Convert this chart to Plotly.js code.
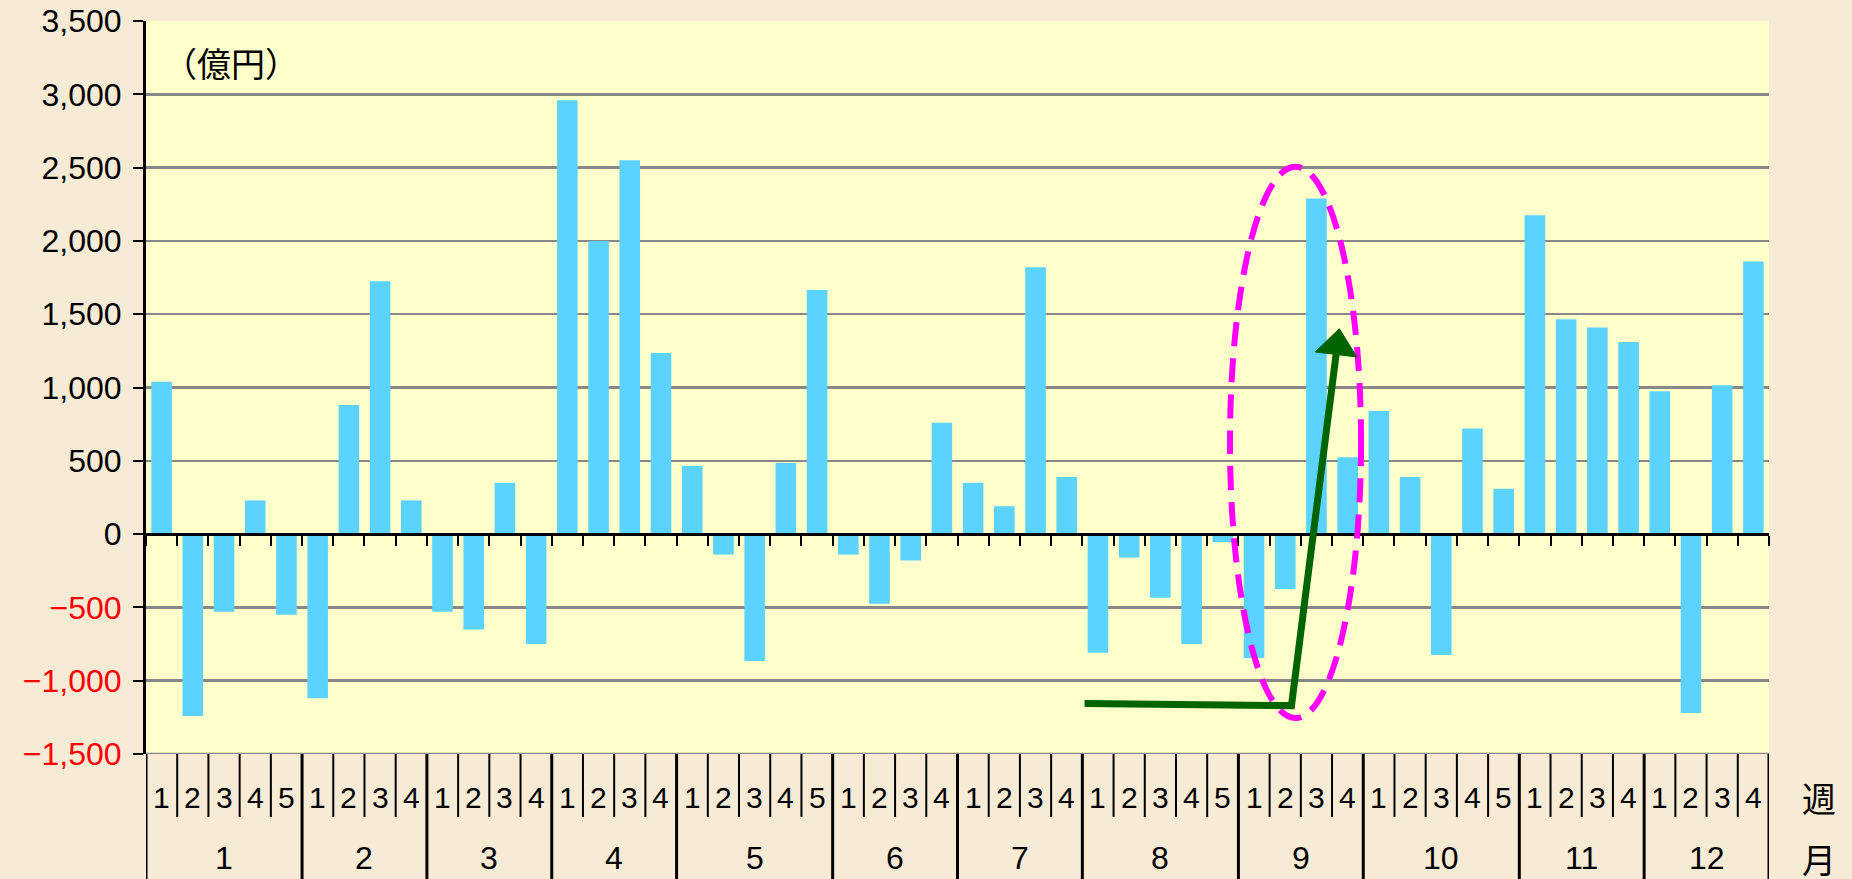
<!DOCTYPE html>
<html>
<head>
<meta charset="utf-8">
<script src="https://cdn.plot.ly/plotly-3.0.1.min.js"></script>
<style>
  html, body { margin: 0; padding: 0; background: #F7EBD6; }
  #chart { width: 1852px; height: 879px; }
</style>
</head>
<body>
<div id="chart"></div>
<script>
// ---- data ----
const months = ['1','2','3','4','5','6','7','8','9','10','11','12'];
const weeksPerMonth = [5,4,4,4,5,4,4,5,4,5,4,4];
const weekLabels = ['1','2','3','4','5', '1','2','3','4', '1','2','3','4', '1','2','3','4',
                    '1','2','3','4','5', '1','2','3','4', '1','2','3','4', '1','2','3','4','5',
                    '1','2','3','4', '1','2','3','4','5', '1','2','3','4', '1','2','3','4'];
const values = [1040,-1240,-530,230,-550,
                -1120,880,1725,230,
                -530,-650,350,-750,
                2960,2000,2550,1235,
                465,-140,-865,485,1665,
                -140,-475,-180,760,
                350,190,1820,390,
                -810,-160,-435,-750,-55,
                -845,-375,2290,525,
                840,390,-825,720,310,
                2175,1465,1410,1310,
                975,-1220,1015,1860];
const yTickVals = [-1500,-1000,-500,0,500,1000,1500,2000,2500,3000,3500];
const yTickText = ['−1,500','−1,000','−500','0','500','1,000','1,500','2,000','2,500','3,000','3,500'];
const unitLabel = '（億円）';
const weekAxisLabel = '週';
const monthAxisLabel = '月';

// ---- build ----
const xIdx = values.map((_, i) => i);
const NUM = 'Liberation Sans, Arial, sans-serif';
const CJK = 'Noto Sans CJK JP, sans-serif';

const trace = {
  type: 'bar', x: xIdx, y: values,
  marker: { color: '#5CD3FF', line: { width: 0 } },
  hoverinfo: 'skip'
};

const tickText = yTickText.map((t, i) => yTickVals[i] < 0 ? '<span style="color:#FF0000">' + t + '</span>' : t);

const shapes = [];
const annotations = [];

// bottom gridline at range minimum
shapes.push({ type: 'line', xref: 'paper', yref: 'y', x0: 0, x1: 1, y0: yTickVals[0], y1: yTickVals[0],
  line: { color: '#888888', width: 2.5 }, layer: 'below' });

// month boundaries
const monthStarts = [];
let acc = 0;
weeksPerMonth.forEach(n => { monthStarts.push(acc); acc += n; });
const monthBounds = monthStarts.concat([acc]);

// week dividers (short)
for (let i = 0; i <= values.length; i++) {
  if (monthBounds.indexOf(i) >= 0) continue;
  shapes.push({ type: 'line', xref: 'x', yref: 'paper', x0: i - 0.5, x1: i - 0.5, y0: 0, y1: -0.086,
    line: { color: '#000000', width: 2 }, layer: 'above' });
}
// month dividers (long)
monthBounds.forEach(b => {
  shapes.push({ type: 'line', xref: 'x', yref: 'paper', x0: b - 0.5, x1: b - 0.5, y0: 0, y1: -0.2,
    line: { color: '#000000', width: 3 }, layer: 'above' });
});

// week labels
weekLabels.forEach((w, i) => {
  annotations.push({ xref: 'x', yref: 'paper', x: i, y: -0.0594, text: w, showarrow: false,
    xanchor: 'center', yanchor: 'middle', font: { family: NUM, size: 30, color: '#000' } });
});
// month labels
months.forEach((m, k) => {
  const c = monthStarts[k] + (weeksPerMonth[k] - 1) / 2;
  annotations.push({ xref: 'x', yref: 'paper', x: c, y: -0.1425, text: m, showarrow: false,
    xanchor: 'center', yanchor: 'middle', font: { family: NUM, size: 32, color: '#000' } });
});
annotations.push({ xref: 'paper', yref: 'paper', x: 1.0308, y: -0.0594, text: weekAxisLabel, showarrow: false,
  xanchor: 'center', yanchor: 'middle', font: { family: CJK, size: 34, color: '#000' } });
annotations.push({ xref: 'paper', yref: 'paper', x: 1.0308, y: -0.1425, text: monthAxisLabel, showarrow: false,
  xanchor: 'center', yanchor: 'middle', font: { family: CJK, size: 34, color: '#000' } });
annotations.push({ xref: 'paper', yref: 'paper', x: 0.009, y: 0.944, text: unitLabel, showarrow: false,
  xanchor: 'left', yanchor: 'middle', font: { family: CJK, size: 34, color: '#000' } });

// highlight ellipse (magenta dashed)
shapes.push({ type: 'circle', xref: 'x', yref: 'y', x0: 34.23, x1: 38.43, y0: -1255, y1: 2505,
  line: { color: '#FF00FF', width: 6, dash: '24px,12px' }, layer: 'above' });
// green arrow
shapes.push({ type: 'path', xref: 'x', yref: 'y',
  path: 'M 29.57,-1155 L 36.20,-1170 L 37.63,1226',
  line: { color: '#006400', width: 7 }, layer: 'above' });
shapes.push({ type: 'path', xref: 'x', yref: 'y',
  path: 'M 36.96,1243 L 37.735,1401 L 38.295,1208 Z',
  fillcolor: '#006400', line: { color: '#006400', width: 1 }, layer: 'above' });

const layout = {
  width: 1852, height: 879,
  margin: { l: 146, r: 83, t: 21, b: 125, pad: 0 },
  paper_bgcolor: '#F7EBD6',
  plot_bgcolor: '#FFFFCC',
  showlegend: false,
  bargap: 0.34,
  xaxis: {
    type: 'linear', range: [-0.5, values.length - 0.5],
    anchor: 'free', position: 0.3,
    showline: true, linecolor: '#000000', linewidth: 3,
    ticks: 'outside', ticklen: 10, tickwidth: 2, tickcolor: '#000000',
    tickmode: 'linear', tick0: -0.5, dtick: 1,
    showticklabels: false, showgrid: false, zeroline: false, fixedrange: true
  },
  yaxis: {
    range: [-1500, 3500],
    tickmode: 'array', tickvals: yTickVals, ticktext: tickText,
    ticks: 'outside', ticklen: 10, tickwidth: 2, tickcolor: '#000000',
    showline: true, linecolor: '#000000', linewidth: 3,
    showgrid: true, gridcolor: '#888888', gridwidth: 2.5,
    zeroline: false,
    tickfont: { family: NUM, size: 32, color: '#000000' },
    ticklabelstandoff: 5,
    fixedrange: true
  },
  shapes: shapes,
  annotations: annotations
};

Plotly.newPlot('chart', [trace], layout, { displayModeBar: false, staticPlot: true });
</script>
</body>
</html>
